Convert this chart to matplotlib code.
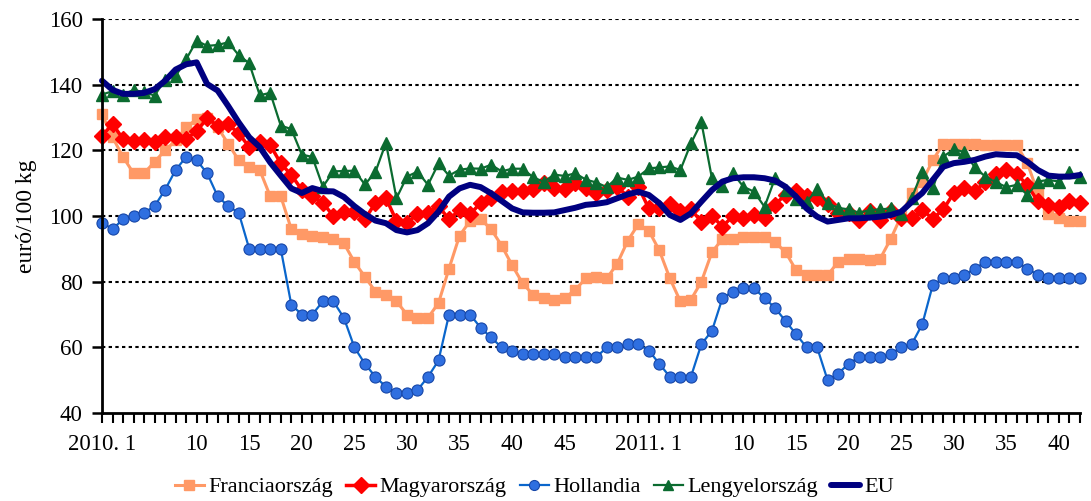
import matplotlib
matplotlib.use("Agg")
import matplotlib.pyplot as plt
import numpy as np

# ---- categories (weeks) ----
weeks_2010 = list(range(1, 53))
weeks_2011 = list(range(1, 43))
categories = [f"2010. {w}" for w in weeks_2010] + [f"2011. {w}" for w in weeks_2011]

# ---- series values (euro / 100 kg) ----
franciaorszag = [131, 124, 118, 113, 113, 116.5, 120, 123, 127, 129.5,
                 130, 127, 122, 117, 115, 114, 106, 106, 96, 94.5,
                 94, 93.5, 93, 91.7, 86, 81.5, 77, 76, 74, 70,
                 68.8, 69, 73.5, 84, 94, 98.5, 99, 96, 91, 85,
                 79.5, 76, 75, 74.5, 75, 77.5, 81, 81.5, 81, 85.5,
                 92.5, 97.5,
                 95.5, 89.5, 81, 74, 74.5, 80, 89, 93, 93, 93.5,
                 93.5, 93.5, 92, 89, 83.5, 82, 82, 82, 86, 87,
                 87, 86.5, 87, 93, 100, 107, 110.5, 117, 122, 122,
                 122, 122, 121.5, 121.5, 121.5, 121.5, 116, 107, 100.5, 99.5,
                 98.5, 98.5]
magyarorszag = [124.4, 128, 123.5, 122.8, 123, 122.4, 124.2, 124.2, 123.5, 125.8,
                129.8, 127.5, 127.9, 125.2, 121, 122.5, 121.6, 116, 112.5, 108,
                106, 104, 100, 101.3, 101.3, 99, 104, 105.5, 98.5, 98,
                100.5, 101, 103, 99, 101.8, 100.5, 104, 105.5, 107.2, 107.6,
                107.6, 108.2, 110, 108.4, 108.2, 110.2, 108.4, 106.9, 107.9, 108.9,
                105.9, 108.9,
                102.3, 102.5, 103.6, 101.5, 102, 98.3, 100, 96.8, 100, 99.3,
                100.3, 99.5, 103.5, 106.5, 107.5, 106, 105.5, 103.7, 100.8, 101,
                98.8, 101.5, 98.8, 101.5, 99.3, 99.5, 101.8, 99.2, 102, 107,
                108.5, 107.5, 110.5, 112.8, 114, 112.8, 109.3, 104.5, 103.5, 102.6,
                104.5, 104]
hollandia = [98, 96, 99, 100, 101, 103, 108, 114, 118, 117,
             113, 106, 103, 101, 90, 90, 90, 90, 73, 70,
             70, 74, 74, 69, 60, 55, 51, 48, 46, 46,
             47, 51, 56, 70, 70, 70, 66, 63, 60, 59,
             58, 58, 58, 58, 57, 57, 57, 57, 60, 60,
             61, 61,
             59, 55, 51, 51, 51, 61, 65, 75, 77, 78,
             78, 75, 72, 68, 64, 60, 60, 50, 52, 55,
             57, 57, 57, 58, 60, 61, 67, 79, 81, 81,
             82, 84, 86, 86, 86, 86, 84, 82, 81, 81,
             81, 81]
lengyelorszag = [137, 138, 137, 138.4, 137.7, 136.7, 141.5, 142.6, 147.7, 153.4,
                 151.8, 152.1, 152.9, 149, 146.5, 136.8, 137.5, 127.5, 126.5, 118.7,
                 118, 108.9, 113.6, 113.7, 113.8, 109.6, 113.4, 122.3, 105.4, 112,
                 113.5, 109.5, 116, 112.3, 114.1, 114.5, 114.4, 115.6, 113.6, 114.4,
                 114.4, 111.8, 110.4, 112.6, 112.2, 113, 111.1, 110.2, 108.8, 111.7,
                 111, 112,
                 114.5, 114.8, 115.1, 114, 122.1, 128.5, 111.5, 109, 113, 108.9,
                 107.4, 102.8, 111.5, 108, 105.2, 104.2, 108.2, 103.9, 102.5, 102,
                 101, 101.8, 102, 102.3, 100.5, 105.5, 113.5, 108.4, 118.1, 120.3,
                 119.5, 114.8, 112, 110.3, 108.8, 109.5, 106.4, 110.5, 111, 110.5,
                 113.3, 111.8]
eu = [141.2, 138.4, 137.2, 137.2, 137.5, 138.6, 141.2, 144.6, 146.2, 146.8,
      140.2, 138.2, 133.5, 128.5, 124, 121, 116.3, 112.3, 108.4, 107,
      108.5, 107.6, 107.5, 105.8, 103, 100.6, 98.6, 97.8, 95.7, 95,
      95.7, 97.8, 101.3, 105.9, 108.4, 109.5, 108.8, 106.9, 104.6, 102.3,
      101.1, 101, 101, 101.1, 101.8, 102.5, 103.4, 103.7, 104.2, 105.4,
      106.6, 107.4,
      106.4, 103.9, 100.3, 98.8, 100.8, 104.4, 107.9, 110.5, 111.5, 111.8,
      111.8, 111.5, 110.8, 108.9, 105.9, 102.3, 99.8, 98.3, 98.8, 99.3,
      99.3, 99.5, 99.8, 100.3, 101.3, 104.3, 107, 111, 115, 116.1,
      116.5, 117.1, 118.1, 118.8, 118.6, 118.5, 116.5, 114, 112.3, 112,
      112, 112.5]

# ---- tick labels ----
label_weeks_2010 = [1, 10, 15, 20, 25, 30, 35, 40, 45]
label_weeks_2011 = [1, 10, 15, 20, 25, 30, 35, 40]

plt.rcParams['font.family'] = ['Liberation Serif', 'DejaVu Serif']

fig = plt.figure(figsize=(10.91, 5.01), dpi=100)
ax = fig.add_axes([102 / 1091, 1 - 413 / 501, (1080 - 102) / 1091, (413 - 19) / 501])

x = np.arange(len(categories))

ax.plot(x, franciaorszag, color='#FF9966', lw=2.2, marker='s', ms=7.5,
        mfc='#FF9966', mec='#FF9966', label='Franciaország', clip_on=False, zorder=3)
ax.plot(x, magyarorszag, color='#FF0000', lw=2.5, marker='D', ms=8.5,
        mfc='#FF0000', mec='#FF0000', label='Magyarország', clip_on=False, zorder=4)
ax.plot(x, hollandia, color='#0A66CC', lw=1.6, marker='o', ms=8,
        mfc='#2F6FE0', mec='#1747A8', mew=0.8, label='Hollandia', clip_on=False, zorder=5)
ax.plot(x, lengyelorszag, color='#0B6B30', lw=1.6, marker='^', ms=8,
        mfc='#0B6B30', mec='#0B6B30', label='Lengyelország', clip_on=False, zorder=6)
ax.plot(x, eu, color='#000080', lw=4.3, solid_joinstyle='round', solid_capstyle='round',
        label='EU', clip_on=False, zorder=7)

ax.set_xlim(0, len(categories) - 1)
ax.set_ylim(40, 160)
ax.set_yticks(np.arange(40, 161, 20))
ax.tick_params(axis='y', labelsize=16.5, length=7, width=1.8, direction='out', pad=7)

tick_labels = [''] * len(categories)
for w in label_weeks_2010:
    tick_labels[weeks_2010.index(w)] = '2010. 1' if w == 1 else str(w)
for w in label_weeks_2011:
    tick_labels[len(weeks_2010) + weeks_2011.index(w)] = '2011. 1' if w == 1 else str(w)
ax.set_xticks(x)
ax.set_xticklabels(tick_labels)
ax.tick_params(axis='x', labelsize=16.5, length=7, width=1.5, direction='out', pad=8)

for v in range(60, 161, 20):
    ax.axhline(v, color='black', lw=1.5, ls=(0, (1.6, 1.6)), zorder=1)

for s in ['top', 'right']:
    ax.spines[s].set_visible(False)
for s in ['left', 'bottom']:
    ax.spines[s].set_linewidth(2)
    ax.spines[s].set_zorder(8)

ax.set_ylabel('euró/100 kg', fontsize=17, labelpad=8)

fig.legend(loc='center', bbox_to_anchor=(0.49, 1 - 487 / 501), ncol=5, frameon=False,
           fontsize=16, handlelength=1.3, handletextpad=0.2, columnspacing=0.6,
           markerscale=0.9)

fig.savefig('out.png', dpi=100)
